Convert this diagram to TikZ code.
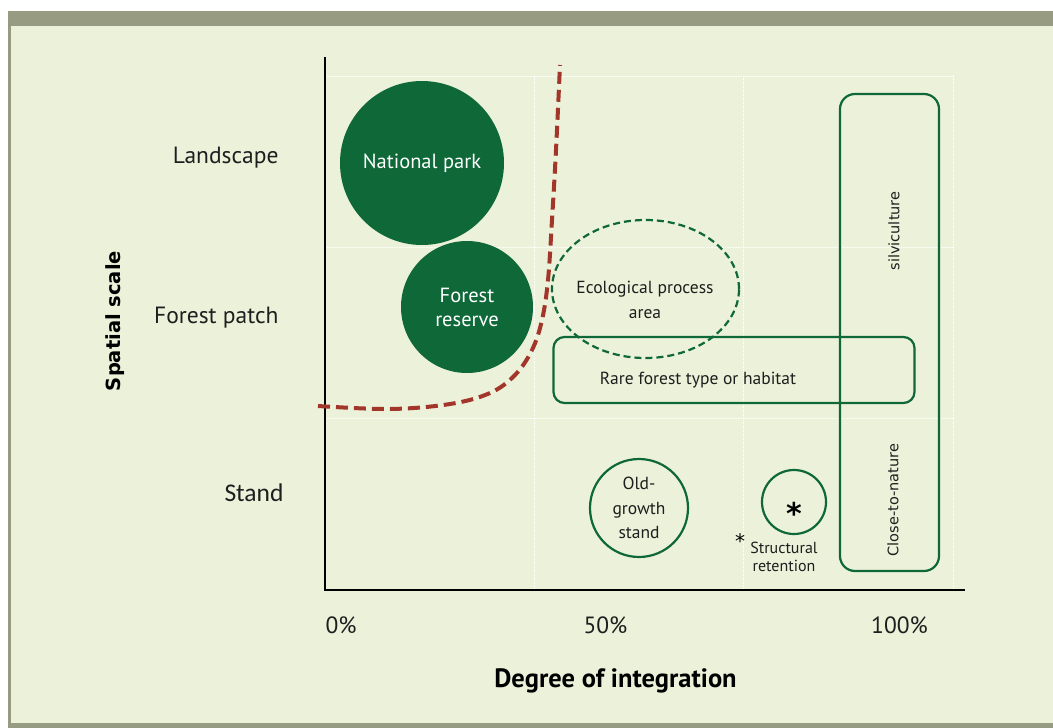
\documentclass[tikz,border=0pt]{standalone}
\usepackage{fontspec}
\setmainfont{PT Sans}
\newfontfamily\verfont{DejaVu Sans}
\newfontfamily\calfont{Carlito}
\usetikzlibrary{shapes.geometric}
\definecolor{fondo}{HTML}{ECF1DA}
\definecolor{marco}{HTML}{969B82}
\definecolor{bosque}{HTML}{0E6838}
\definecolor{rojo}{HTML}{A2362A}
\definecolor{texto}{HTML}{1E1E1E}

\begin{document}
\begin{tikzpicture}[x=1pt,y=-1pt,
    escala/.style={text=texto,font=\fontsize{23.5}{26}\selectfont},
    lleno/.style={circle,fill=bosque,text=white,inner sep=0pt,align=center,font=\fontsize{20.5}{24}\selectfont},
    borde/.style={draw=bosque,line width=2.2pt},
    dentro/.style={text=texto,align=center,font=\fontsize{17.5}{24.5}\selectfont},
    girado/.style={rotate=90,text=texto,font=\verfont\fontsize{14.5}{17}\selectfont}]
    \useasboundingbox (0,0) rectangle (1053,728);

    % Dibuja el marco
    \fill[marco] (8,11) rectangle (1053,728);
    \fill[fondo] (10.5,25.5) rectangle (1053,723);

    % Dibuja la rejilla
    \foreach \gx in {534,743,953}
        \draw[white,densely dotted,line width=0.6pt] (\gx,76) -- (\gx,590);
    \foreach \gy in {76,247,418}
        \draw[white,densely dotted,line width=0.6pt] (325,\gy) -- (953,\gy);

    % Dibuja los ejes
    \draw[line width=2pt] (325,57) -- (325,590) -- (965,590);

    % Dibuja las etiquetas de los ejes
    \node[escala,anchor=east] (paisaje) at (282,158) {Landscape};
    \node[escala,anchor=east] (parcela) at (282,318) {Forest patch};
    \node[escala,anchor=east,font=\calfont\fontsize{25.5}{28}\selectfont] (rodal) at (287,493) {Stand};
    \node[rotate=90,font=\verfont\bfseries\fontsize{19.5}{22}\selectfont] (espacial) at (115,321) {Spatial scale};
    \node[escala] (cero) at (341,625) {0\%};
    \node[escala] (medio) at (605.5,625) {50\%};
    \node[escala] (cien) at (899.5,625) {100\%};
    \node[font=\bfseries\fontsize{26.5}{28}\selectfont] (grado) at (615.5,681) {Degree of integration};

    % Dibuja las zonas protegidas
    \node[lleno,minimum size=164pt] (parque) at (422,163) {National park};
    \node[lleno,minimum size=132pt] (reserva) at (467,307) {Forest\\reserve};

    % Dibuja la curva de segregacion
    \draw[rojo,line width=4pt,dash pattern=on 12pt off 6pt] plot[smooth,tension=0.6] coordinates
        {(318,406) (390,409) (450,404) (490,393) (515,375) (532,350) (542,320) (548,280) (552,220) (556,150) (560,65)};

    % Dibuja las zonas integradas
    \node[borde,dashed,dash pattern=on 7pt off 4pt,ellipse,minimum width=187pt,minimum height=138pt] (proceso) at (645.5,289) {};
    \node[dentro] (procesotxt) at (645,300) {Ecological process\\area};
    \node[borde,rounded corners=11pt,minimum width=361pt,minimum height=66pt] (rara) at (734,370) {};
    \node[dentro] (raratxt) at (698,380) {Rare forest type or habitat};
    \node[borde,rounded corners=15pt,minimum width=99pt,minimum height=477pt] (cercana) at (889.5,332.5) {};
    \node[girado] (silvi) at (894,231) {silviculture};
    \node[girado] (natura) at (893,500) {Close-to-nature};
    \node[borde,circle,minimum size=98pt,inner sep=0pt,dentro] (viejo) at (639,508) {Old-\\growth\\stand};
    \node[borde,circle,minimum size=64pt] (retencion) at (794,502) {};
    \node[font=\verfont\bfseries\fontsize{30}{32}\selectfont] (asterisco) at (794,513) {*};
    \node[dentro,font=\fontsize{16}{18}\selectfont] (nota) at (784,557) {Structural\\retention};
    \node[font=\verfont\fontsize{20}{22}\selectfont] (notaast) at (740,541) {*};
\end{tikzpicture}
\end{document}
